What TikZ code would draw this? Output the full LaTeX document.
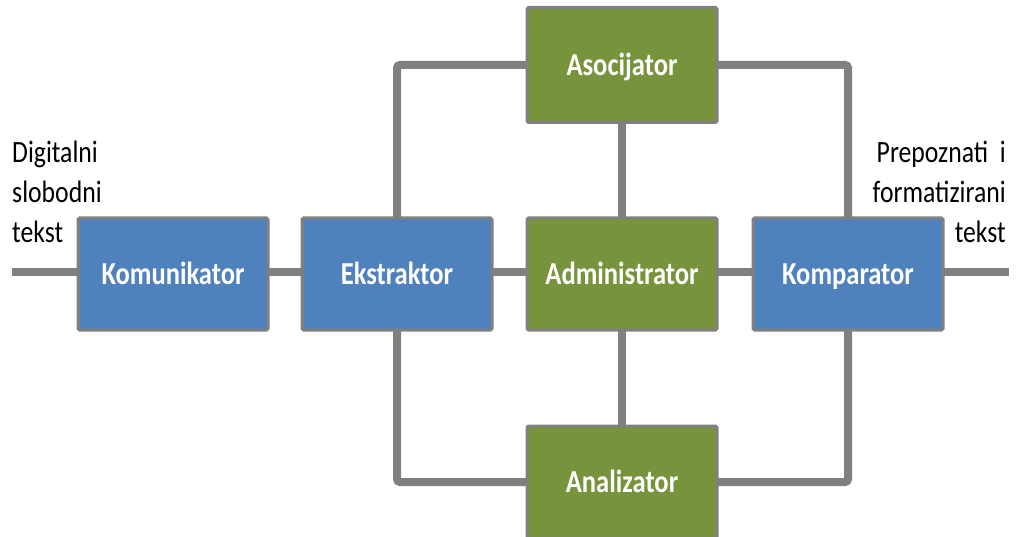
\documentclass[tikz,border=0pt]{standalone}
\usepackage{fontspec}
\setmainfont{Carlito}
\newfontfamily\narrowfont[FakeStretch=0.83]{Carlito}
\usetikzlibrary{positioning}

\definecolor{boxblue}{HTML}{4F81BD}
\definecolor{boxgreen}{HTML}{77933C}
\definecolor{wiregray}{HTML}{808080}

\begin{document}
\begin{tikzpicture}[x=1pt,y=-1pt,
    modul/.style={draw=wiregray,line width=3pt,rounded corners=1.5pt,
      minimum width=190pt,minimum height=112pt,text=white,
      text height=21pt,text depth=0pt,
      font=\narrowfont\fontsize{32}{36}\selectfont\bfseries},
    blue/.style={modul,fill=boxblue},
    green/.style={modul,fill=boxgreen},
    wire/.style={wiregray,line width=8pt,rounded corners=3pt},
    label/.style={font=\narrowfont\fontsize{31}{40}\selectfont,inner sep=0pt}]
  \useasboundingbox (0,0) rectangle (1019,537);

  % signal lines behind the boxes
  \coordinate (in) at (12,272);
  \coordinate (out) at (1009,272);
  \coordinate (tl) at (397,65);
  \coordinate (tr) at (848,65);
  \coordinate (bl) at (397,482);
  \coordinate (br) at (848,482);
  \draw[wire] (in) -- (out);
  \draw[wire] (397,272) -- (tl) -- (tr) -- (848,272);
  \draw[wire] (397,272) -- (bl) -- (br) -- (848,272);
  \draw[wire] (622,65) -- (622,482);

  \node[blue] (kom) at (173,274) {Komunikator};
  \node[blue] (eks) at (397,274) {Ekstraktor};
  \node[green] (adm) at (622,274) {Administrator};
  \node[blue] (kmp) at (848,274) {Komparator};
  \node[green,minimum height=115pt] (aso) at (622,65) {Asocijator};
  \node[green] (ana) at (622,482) {Analizator};

  \node[label,align=left,anchor=north west] (ulaz) at (12,141)
    {Digitalni\\slobodni\\tekst};
  \node[label,align=right,anchor=north east] (izlaz) at (1006,141)
    {Prepoznati~~i\\formatizirani\\tekst};
\end{tikzpicture}
\end{document}
